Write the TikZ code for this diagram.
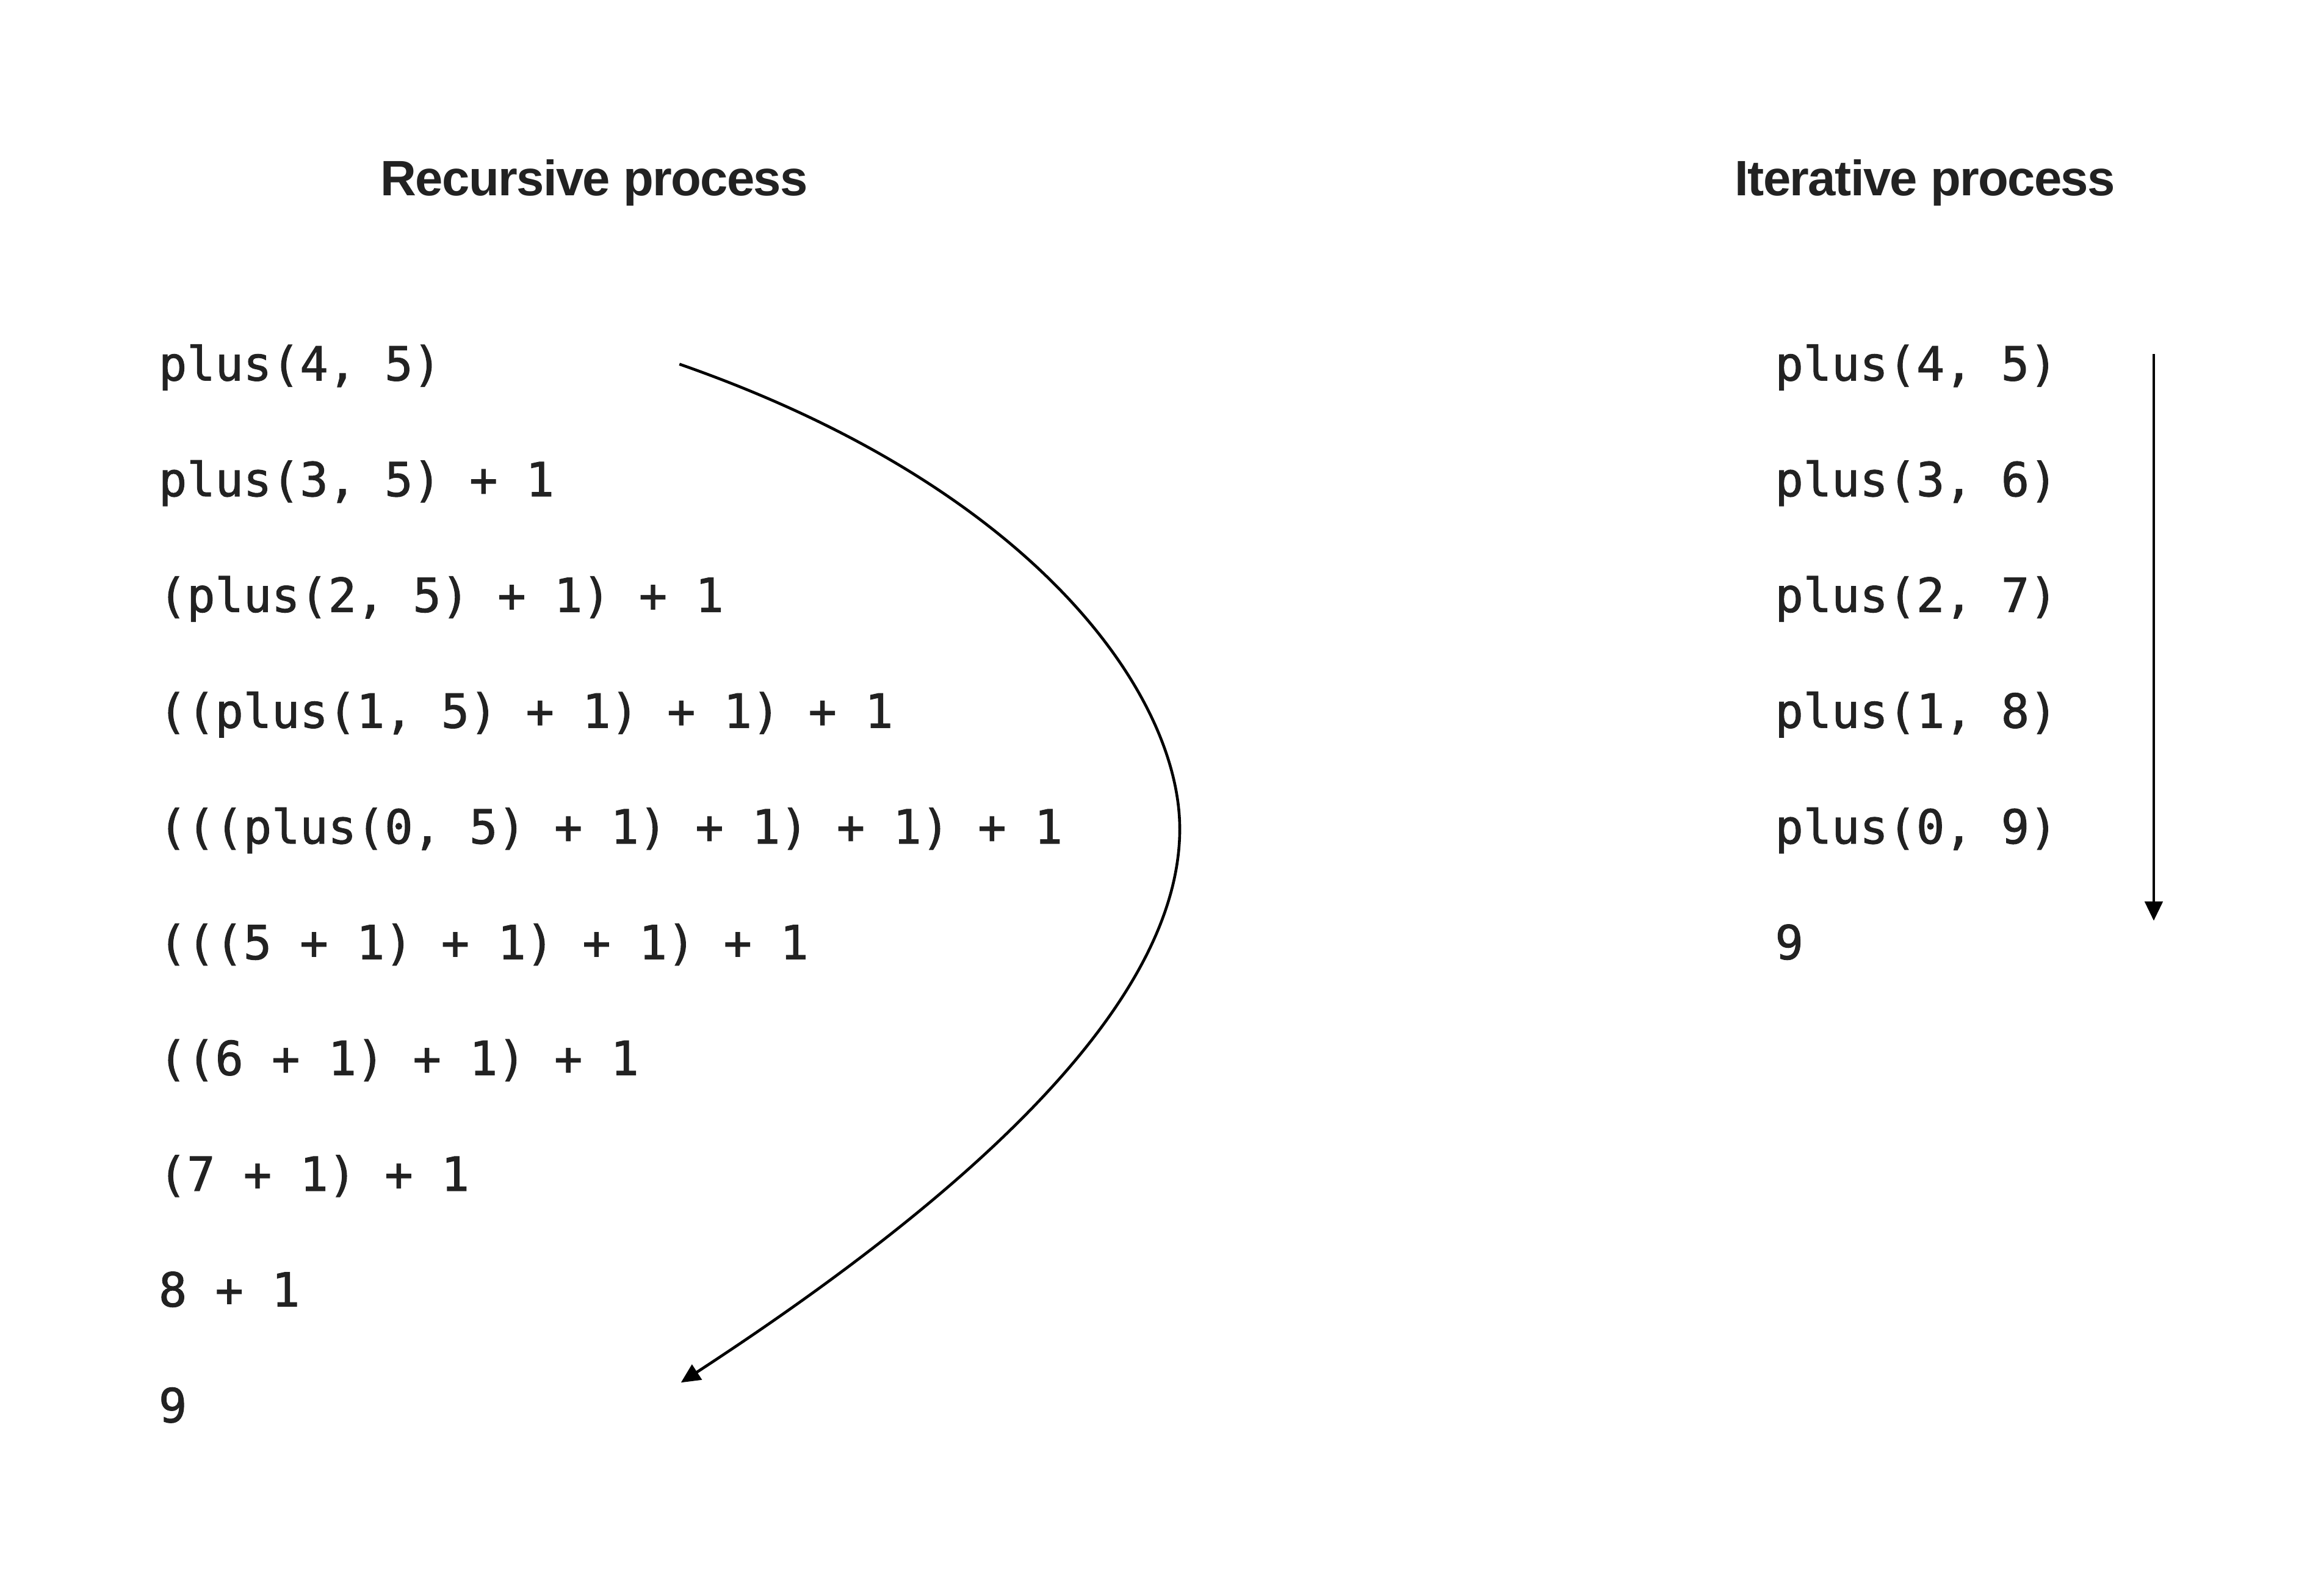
\documentclass[tikz,border=0pt]{standalone}
\usepackage{fontspec}
\setmainfont{Liberation Sans}
\newfontfamily\codefont[FakeBold=1.4]{DejaVu Sans Mono}
\newfontfamily\headfont[LetterSpace=-2.0]{Liberation Sans}
\usetikzlibrary{arrows.meta}
\definecolor{ink}{HTML}{222222}
\tikzset{
  codeline/.style={anchor=base west, inner sep=0pt, text=ink,
    font=\codefont\fontsize{31.7}{38}\selectfont},
  heading/.style={anchor=base, inner sep=0pt, text=ink,
    font=\headfont\bfseries\fontsize{33.6}{40}\selectfont},
  flow/.style={line width=1.9pt, black,
    -{Triangle[length=13pt,width=12pt]}},
}
\begin{document}
\begin{tikzpicture}[x=1pt,y=-1pt]
  \fill[white] (0,0) rectangle (1568,1078);
  \useasboundingbox (0,0) rectangle (1568,1078);

  % headings
  \node[heading] (hrec) at (401.5,132) {Recursive process};
  \node[heading] (hite) at (1300.5,132) {Iterative process};

  % recursive expansion and contraction
  \node[codeline] (r1)  at (107,257.0) {plus(4, 5)};
  \node[codeline] (r2)  at (107,335.2) {plus(3, 5) + 1};
  \node[codeline] (r3)  at (107,413.4) {(plus(2, 5) + 1) + 1};
  \node[codeline] (r4)  at (107,491.6) {((plus(1, 5) + 1) + 1) + 1};
  \node[codeline] (r5)  at (107,569.8) {(((plus(0, 5) + 1) + 1) + 1) + 1};
  \node[codeline] (r6)  at (107,648.0) {(((5 + 1) + 1) + 1) + 1};
  \node[codeline] (r7)  at (107,726.2) {((6 + 1) + 1) + 1};
  \node[codeline] (r8)  at (107,804.4) {(7 + 1) + 1};
  \node[codeline] (r9)  at (107,882.6) {8 + 1};
  \node[codeline] (r10) at (107,960.8) {9};

  % iterative steps
  \node[codeline] (i1) at (1199,257.0) {plus(4, 5)};
  \node[codeline] (i2) at (1199,335.2) {plus(3, 6)};
  \node[codeline] (i3) at (1199,413.4) {plus(2, 7)};
  \node[codeline] (i4) at (1199,491.6) {plus(1, 8)};
  \node[codeline] (i5) at (1199,569.8) {plus(0, 9)};
  \node[codeline] (i6) at (1199,648.0) {9};

  % connector end points
  \coordinate (rstart) at (459,246);
  \coordinate (rturn)  at (797,560);
  \coordinate (rend)   at (460,934);
  \coordinate (istart) at (1455,239);
  \coordinate (iend)   at (1455,622);

  % recursive process: out and back
  \draw[flow] (rstart) .. controls (700,330) and (797,470) .. (rturn)
                       .. controls (797,680) and (650,810) .. (rend);

  % iterative process: straight down
  \draw[flow] (istart) -- (iend);
\end{tikzpicture}
\end{document}
